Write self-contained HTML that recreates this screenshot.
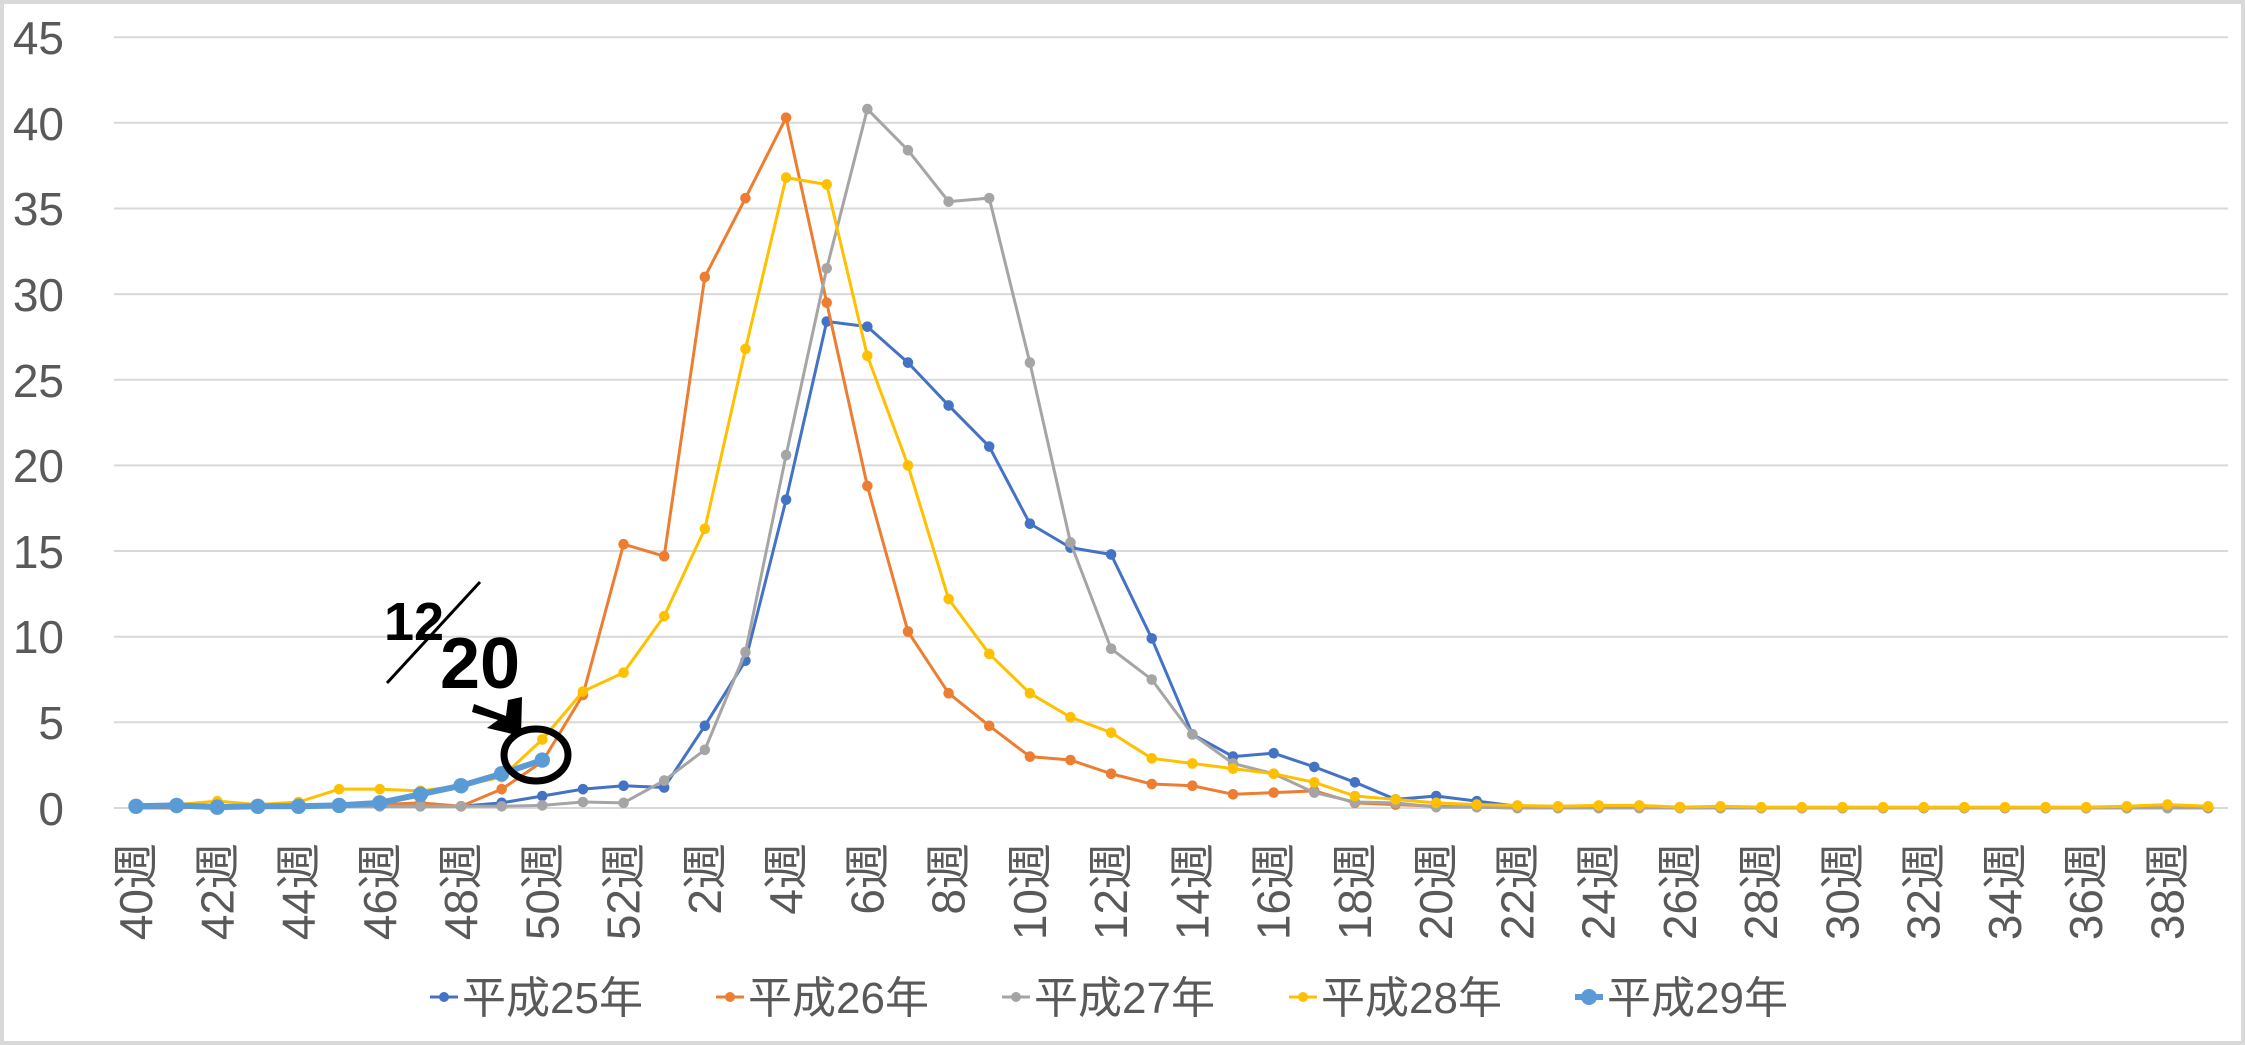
<!DOCTYPE html>
<html><head><meta charset="utf-8"><style>
html,body{margin:0;padding:0;background:#fff;}
svg{display:block;}
text{font-family:"Liberation Sans","Noto Sans CJK JP",sans-serif;fill:#595959;}
</style></head><body>
<svg width="2245" height="1045" viewBox="0 0 2245 1045" xmlns="http://www.w3.org/2000/svg">
<rect x="2" y="2" width="2241" height="1041" fill="#fff" stroke="#d9d9d9" stroke-width="4"/>
<defs>
<marker id="m1" markerUnits="userSpaceOnUse" overflow="visible" refX="0" refY="0" markerWidth="1" markerHeight="1"><ellipse rx=".13" ry=".31" fill="#4472C4"/></marker>
<marker id="m2" markerUnits="userSpaceOnUse" overflow="visible" refX="0" refY="0" markerWidth="1" markerHeight="1"><ellipse rx=".13" ry=".31" fill="#ED7D31"/></marker>
<marker id="m3" markerUnits="userSpaceOnUse" overflow="visible" refX="0" refY="0" markerWidth="1" markerHeight="1"><ellipse rx=".13" ry=".31" fill="#A5A5A5"/></marker>
<marker id="m4" markerUnits="userSpaceOnUse" overflow="visible" refX="0" refY="0" markerWidth="1" markerHeight="1"><ellipse rx=".13" ry=".31" fill="#FFC000"/></marker>
<marker id="m5" markerUnits="userSpaceOnUse" overflow="visible" refX="0" refY="0" markerWidth="1" markerHeight="1"><ellipse rx=".19" ry=".45" fill="#5B9BD5"/></marker>
</defs>
<g stroke="#d9d9d9" stroke-width="2">
<line x1="114" x2="2228" y1="808" y2="808"/>
<line x1="114" x2="2228" y1="722.3" y2="722.3"/>
<line x1="114" x2="2228" y1="636.7" y2="636.7"/>
<line x1="114" x2="2228" y1="551" y2="551"/>
<line x1="114" x2="2228" y1="465.4" y2="465.4"/>
<line x1="114" x2="2228" y1="379.8" y2="379.8"/>
<line x1="114" x2="2228" y1="294.1" y2="294.1"/>
<line x1="114" x2="2228" y1="208.5" y2="208.5"/>
<line x1="114" x2="2228" y1="122.8" y2="122.8"/>
<line x1="114" x2="2228" y1="37.2" y2="37.2"/>
</g>
<g font-size="46" text-anchor="end">
<text x="64" y="825">0</text>
<text x="64" y="739">5</text>
<text x="64" y="653">10</text>
<text x="64" y="568">15</text>
<text x="64" y="482">20</text>
<text x="64" y="397">25</text>
<text x="64" y="311">30</text>
<text x="64" y="225">35</text>
<text x="64" y="140">40</text>
<text x="64" y="54">45</text>
</g>
<g transform="translate(136,808) scale(40.63,-17.13)" fill="none" stroke-linejoin="round">
<polyline vector-effect="non-scaling-stroke" stroke="#4472C4" stroke-width="3" marker-start="url(#m1)" marker-mid="url(#m1)" marker-end="url(#m1)" points="0,0.1 1,0.1 2,0.1 3,0.1 4,0.1 5,0.1 6,0.1 7,0.1 8,0.1 9,0.3 10,0.7 11,1.1 12,1.3 13,1.2 14,4.8 15,8.6 16,18 17,28.4 18,28.1 19,26 20,23.5 21,21.1 22,16.6 23,15.2 24,14.8 25,9.9 26,4.3 27,3 28,3.2 29,2.4 30,1.5 31,0.5 32,0.7 33,0.4 34,0.1 35,0.05 36,0.05 37,0.05 38,0.05 39,0 40,0 41,0 42,0 43,0 44,0 45,0 46,0 47,0 48,0 49,0 50,0 51,0"/>
<polyline vector-effect="non-scaling-stroke" stroke="#ED7D31" stroke-width="3" marker-start="url(#m2)" marker-mid="url(#m2)" marker-end="url(#m2)" points="0,0 1,0 2,0.1 3,0.1 4,0.1 5,0.1 6,0.2 7,0.3 8,0.1 9,1.1 10,2.7 11,6.6 12,15.4 13,14.7 14,31 15,35.6 16,40.3 17,29.5 18,18.8 19,10.3 20,6.7 21,4.8 22,3 23,2.8 24,2 25,1.4 26,1.3 27,0.8 28,0.9 29,1 30,0.3 31,0.2 32,0.1 33,0.05 34,0 35,0 36,0 37,0 38,0 39,0 40,0 41,0 42,0 43,0 44,0 45,0 46,0 47,0 48,0 49,0 50,0.1 51,0"/>
<polyline vector-effect="non-scaling-stroke" stroke="#A5A5A5" stroke-width="3" marker-start="url(#m3)" marker-mid="url(#m3)" marker-end="url(#m3)" points="0,0.1 1,0.1 2,0.1 3,0.1 4,0.1 5,0.1 6,0.1 7,0.1 8,0.1 9,0.1 10,0.15 11,0.35 12,0.3 13,1.6 14,3.4 15,9.1 16,20.6 17,31.5 18,40.8 19,38.4 20,35.4 21,35.6 22,26 23,15.5 24,9.3 25,7.5 26,4.3 27,2.6 28,2 29,0.9 30,0.35 31,0.3 32,0.05 33,0.05 34,0 35,0 36,0 37,0 38,0 39,0 40,0 41,0 42,0 43,0 44,0 45,0 46,0 47,0 48,0 49,0 50,0 51,0"/>
<polyline vector-effect="non-scaling-stroke" stroke="#FFC000" stroke-width="3" marker-start="url(#m4)" marker-mid="url(#m4)" marker-end="url(#m4)" points="0,0.2 1,0.2 2,0.4 3,0.2 4,0.35 5,1.1 6,1.1 7,1 8,1.3 9,1.8 10,4 11,6.8 12,7.9 13,11.2 14,16.3 15,26.8 16,36.8 17,36.4 18,26.4 19,20 20,12.2 21,9 22,6.7 23,5.3 24,4.4 25,2.9 26,2.6 27,2.3 28,2 29,1.5 30,0.7 31,0.5 32,0.3 33,0.2 34,0.15 35,0.1 36,0.15 37,0.15 38,0.05 39,0.1 40,0.05 41,0.05 42,0.05 43,0.05 44,0.05 45,0.05 46,0.05 47,0.05 48,0.05 49,0.1 50,0.2 51,0.1"/>
<polyline vector-effect="non-scaling-stroke" stroke="#5B9BD5" stroke-width="6" marker-start="url(#m5)" marker-mid="url(#m5)" marker-end="url(#m5)" points="0,0.1 1,0.15 2,0.05 3,0.1 4,0.1 5,0.15 6,0.3 7,0.8 8,1.3 9,2 10,2.8"/>
</g>
<g font-size="46">
<g transform="translate(136,843) rotate(-90)"><text x="0" y="16" text-anchor="end">40週</text></g>
<g transform="translate(217.3,843) rotate(-90)"><text x="0" y="16" text-anchor="end">42週</text></g>
<g transform="translate(298.5,843) rotate(-90)"><text x="0" y="16" text-anchor="end">44週</text></g>
<g transform="translate(379.8,843) rotate(-90)"><text x="0" y="16" text-anchor="end">46週</text></g>
<g transform="translate(461,843) rotate(-90)"><text x="0" y="16" text-anchor="end">48週</text></g>
<g transform="translate(542.3,843) rotate(-90)"><text x="0" y="16" text-anchor="end">50週</text></g>
<g transform="translate(623.6,843) rotate(-90)"><text x="0" y="16" text-anchor="end">52週</text></g>
<g transform="translate(704.8,843) rotate(-90)"><text x="0" y="16" text-anchor="end">2週</text></g>
<g transform="translate(786.1,843) rotate(-90)"><text x="0" y="16" text-anchor="end">4週</text></g>
<g transform="translate(867.3,843) rotate(-90)"><text x="0" y="16" text-anchor="end">6週</text></g>
<g transform="translate(948.6,843) rotate(-90)"><text x="0" y="16" text-anchor="end">8週</text></g>
<g transform="translate(1029.9,843) rotate(-90)"><text x="0" y="16" text-anchor="end">10週</text></g>
<g transform="translate(1111.1,843) rotate(-90)"><text x="0" y="16" text-anchor="end">12週</text></g>
<g transform="translate(1192.4,843) rotate(-90)"><text x="0" y="16" text-anchor="end">14週</text></g>
<g transform="translate(1273.6,843) rotate(-90)"><text x="0" y="16" text-anchor="end">16週</text></g>
<g transform="translate(1354.9,843) rotate(-90)"><text x="0" y="16" text-anchor="end">18週</text></g>
<g transform="translate(1436.2,843) rotate(-90)"><text x="0" y="16" text-anchor="end">20週</text></g>
<g transform="translate(1517.4,843) rotate(-90)"><text x="0" y="16" text-anchor="end">22週</text></g>
<g transform="translate(1598.7,843) rotate(-90)"><text x="0" y="16" text-anchor="end">24週</text></g>
<g transform="translate(1679.9,843) rotate(-90)"><text x="0" y="16" text-anchor="end">26週</text></g>
<g transform="translate(1761.2,843) rotate(-90)"><text x="0" y="16" text-anchor="end">28週</text></g>
<g transform="translate(1842.5,843) rotate(-90)"><text x="0" y="16" text-anchor="end">30週</text></g>
<g transform="translate(1923.7,843) rotate(-90)"><text x="0" y="16" text-anchor="end">32週</text></g>
<g transform="translate(2005,843) rotate(-90)"><text x="0" y="16" text-anchor="end">34週</text></g>
<g transform="translate(2086.2,843) rotate(-90)"><text x="0" y="16" text-anchor="end">36週</text></g>
<g transform="translate(2167.5,843) rotate(-90)"><text x="0" y="16" text-anchor="end">38週</text></g>
</g>
<g font-size="44">
<line x1="430" x2="458" y1="997" y2="997" stroke="#4472C4" stroke-width="3"/><circle cx="444" cy="997" r="5" fill="#4472C4"/>
<text x="462" y="1013">平成25年</text>
<line x1="716" x2="744" y1="997" y2="997" stroke="#ED7D31" stroke-width="3"/><circle cx="730" cy="997" r="5" fill="#ED7D31"/>
<text x="748" y="1013">平成26年</text>
<line x1="1002" x2="1030" y1="997" y2="997" stroke="#A5A5A5" stroke-width="3"/><circle cx="1016" cy="997" r="5" fill="#A5A5A5"/>
<text x="1034" y="1013">平成27年</text>
<line x1="1289" x2="1317" y1="997" y2="997" stroke="#FFC000" stroke-width="3"/><circle cx="1303" cy="997" r="5" fill="#FFC000"/>
<text x="1321" y="1013">平成28年</text>
<line x1="1575" x2="1603" y1="997" y2="997" stroke="#5B9BD5" stroke-width="6"/><circle cx="1589" cy="997" r="8" fill="#5B9BD5"/>
<text x="1607" y="1013">平成29年</text>
</g>
<g fill="#000">
<text x="384" y="640" font-size="54" font-weight="bold" font-family="Liberation Serif, serif" style="fill:#000">12</text>
<line x1="387" y1="683" x2="480" y2="582" stroke="#000" stroke-width="3"/>
<text x="440" y="688" font-size="72" font-weight="bold" font-family="Liberation Serif, serif" style="fill:#000">20</text>
<path d="M474,704 L506,716 L508,700 L522,697 L521,736 L487,728 L498,720 L472,712 Z" fill="#000"/>
<ellipse cx="536" cy="755" rx="32" ry="26" fill="none" stroke="#000" stroke-width="7"/>
</g>
</svg>
</body></html>
